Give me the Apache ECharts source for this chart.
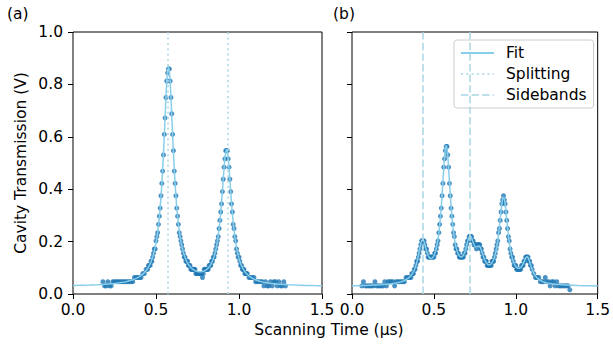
<!DOCTYPE html>
<html>
<head>
<meta charset="utf-8">
<script src="https://cdn.jsdelivr.net/npm/echarts@6/dist/echarts.min.js"></script>
<style>
  html, body { margin: 0; padding: 0; background: #fff; }
  #chart { width: 613px; height: 348px; }
</style>
</head>
<body>
<div id="chart"></div>
<script>
// (a) scan: sample times (μs), fitted curve and measured transmission (V)
const timeA = [
  0, 0.05, 0.10, 0.15, 0.18, 0.19, 0.20, 0.21, 0.22, 0.23,
  0.24, 0.25, 0.26, 0.27, 0.28, 0.29, 0.30, 0.31, 0.32, 0.33,
  0.34, 0.35, 0.36, 0.37, 0.38, 0.39, 0.40, 0.41, 0.42, 0.43,
  0.44, 0.45, 0.455, 0.46, 0.465, 0.47, 0.475, 0.48, 0.485, 0.49,
  0.495, 0.50, 0.505, 0.51, 0.515, 0.52, 0.525, 0.53, 0.535, 0.54,
  0.545, 0.55, 0.555, 0.56, 0.565, 0.57, 0.575, 0.58, 0.585, 0.59,
  0.595, 0.60, 0.605, 0.61, 0.615, 0.62, 0.625, 0.63, 0.635, 0.64,
  0.645, 0.65, 0.655, 0.66, 0.665, 0.67, 0.675, 0.68, 0.685, 0.69,
  0.695, 0.70, 0.705, 0.71, 0.715, 0.72, 0.725, 0.73, 0.735, 0.74,
  0.745, 0.75, 0.755, 0.76, 0.765, 0.77, 0.775, 0.78, 0.785, 0.79,
  0.795, 0.80, 0.805, 0.81, 0.815, 0.82, 0.825, 0.83, 0.835, 0.84,
  0.845, 0.85, 0.855, 0.86, 0.865, 0.87, 0.875, 0.88, 0.885, 0.89,
  0.895, 0.90, 0.905, 0.91, 0.915, 0.92, 0.925, 0.93, 0.935, 0.94,
  0.945, 0.95, 0.955, 0.96, 0.965, 0.97, 0.975, 0.98, 0.985, 0.99,
  0.995, 1.00, 1.005, 1.01, 1.015, 1.02, 1.025, 1.03, 1.035, 1.04,
  1.045, 1.05, 1.06, 1.07, 1.08, 1.09, 1.10, 1.11, 1.12, 1.13,
  1.14, 1.15, 1.16, 1.17, 1.18, 1.19, 1.20, 1.21, 1.22, 1.23,
  1.24, 1.25, 1.26, 1.27, 1.28, 1.30, 1.35, 1.40, 1.45, 1.50
];
const fitA = [
  0.032, 0.033, 0.034, 0.0355, 0.0366, 0.0369, 0.0374, 0.0378, 0.0384, 0.0389,
  0.0396, 0.0402, 0.041, 0.0417, 0.0426, 0.0436, 0.0446, 0.0458, 0.0471, 0.0485,
  0.0503, 0.0521, 0.0542, 0.0565, 0.0595, 0.0625, 0.0662, 0.0705, 0.0757, 0.0817,
  0.0893, 0.0982, 0.1035, 0.1093, 0.116, 0.1236, 0.1318, 0.1414, 0.1521, 0.1646,
  0.1787, 0.1952, 0.2142, 0.2363, 0.262, 0.2924, 0.3276, 0.3692, 0.4175, 0.4734,
  0.5365, 0.6063, 0.6792, 0.7503, 0.8114, 0.8536, 0.8687, 0.854, 0.8121, 0.7513,
  0.6806, 0.6079, 0.5386, 0.4757, 0.4202, 0.3723, 0.3311, 0.2962, 0.2663, 0.2408,
  0.2192, 0.2006, 0.1846, 0.1708, 0.1589, 0.1486, 0.1395, 0.1318, 0.1247, 0.1188,
  0.1135, 0.1088, 0.1047, 0.1012, 0.098, 0.0952, 0.0929, 0.0909, 0.0892, 0.0878,
  0.0866, 0.0857, 0.0851, 0.0848, 0.0847, 0.0849, 0.0852, 0.0858, 0.0867, 0.088,
  0.0896, 0.0915, 0.0937, 0.0965, 0.0997, 0.1035, 0.1079, 0.113, 0.119, 0.126,
  0.1341, 0.1436, 0.1549, 0.1679, 0.1833, 0.2014, 0.2227, 0.2479, 0.2772, 0.3112,
  0.3498, 0.3923, 0.437, 0.4804, 0.5177, 0.5433, 0.5523, 0.5428, 0.5167, 0.4788,
  0.4349, 0.3897, 0.3466, 0.3074, 0.2729, 0.2431, 0.2173, 0.1954, 0.1767, 0.1606,
  0.1469, 0.1351, 0.1248, 0.116, 0.1083, 0.1015, 0.0956, 0.0904, 0.0857, 0.0815,
  0.0778, 0.0745, 0.0688, 0.0642, 0.0603, 0.057, 0.0541, 0.0518, 0.0497, 0.0479,
  0.0463, 0.0449, 0.0438, 0.0427, 0.0417, 0.0408, 0.0401, 0.0393, 0.0387, 0.0381,
  0.0376, 0.0371, 0.0366, 0.0363, 0.0358, 0.0352, 0.0339, 0.0329, 0.0322, 0.0316
];
const measuredA = [
  null, null, null, null, 0.047, 0.031, 0.031, 0.047, 0.031, 0.031,
  0.047, 0.047, 0.047, 0.047, 0.047, 0.047, 0.047, 0.047, 0.047, 0.047,
  0.047, 0.047, 0.047, 0.063, 0.063, 0.063, 0.063, 0.063, 0.078, 0.078,
  0.094, 0.094, 0.109, 0.109, 0.109, 0.125, 0.125, 0.141, 0.156, 0.172,
  0.172, 0.203, 0.219, 0.234, 0.266, 0.297, 0.328, 0.375, 0.422, 0.469,
  0.531, 0.609, 0.672, 0.75, 0.813, 0.844, 0.859, 0.859, 0.813, 0.75,
  0.688, 0.609, 0.547, 0.469, 0.422, 0.375, 0.328, 0.297, 0.266, 0.234,
  0.219, 0.203, 0.188, 0.172, 0.156, 0.141, 0.141, 0.125, 0.125, 0.125,
  0.109, 0.109, 0.109, 0.094, 0.094, 0.094, 0.094, 0.094, 0.094, 0.078,
  0.078, 0.078, 0.078, 0.078, 0.078, 0.078, 0.078, 0.063, 0.078, 0.094,
  0.094, 0.094, 0.094, 0.094, 0.094, 0.109, 0.109, 0.109, 0.125, 0.125,
  0.141, 0.141, 0.156, 0.172, 0.188, 0.203, 0.219, 0.25, 0.281, 0.313,
  0.344, 0.391, 0.438, 0.484, 0.516, 0.547, 0.547, 0.547, 0.516, 0.484,
  0.438, 0.391, 0.344, 0.313, 0.266, 0.25, 0.219, 0.203, 0.172, 0.156,
  0.141, 0.141, 0.125, 0.109, 0.109, 0.094, 0.094, 0.094, 0.078, 0.078,
  0.078, 0.078, 0.063, 0.063, 0.063, 0.063, 0.047, 0.047, 0.047, 0.047,
  0.047, 0.031, 0.047, 0.031, 0.031, 0.047, 0.031, 0.047, 0.047, 0.031,
  0.047, 0.031, 0.031, 0.047, 0.031, null, null, null, null, null
];
// normal-mode splitting positions (μs)
const splittingA = [0.575, 0.925];

// (b) scan with modulation sidebands
const timeB = [
  0, 0.03, 0.06, 0.07, 0.08, 0.09, 0.10, 0.11, 0.12, 0.13,
  0.14, 0.15, 0.16, 0.17, 0.18, 0.19, 0.20, 0.21, 0.22, 0.23,
  0.24, 0.25, 0.26, 0.27, 0.28, 0.29, 0.30, 0.31, 0.32, 0.33,
  0.34, 0.35, 0.36, 0.365, 0.37, 0.375, 0.38, 0.385, 0.39, 0.395,
  0.40, 0.405, 0.41, 0.415, 0.42, 0.425, 0.43, 0.435, 0.44, 0.445,
  0.45, 0.455, 0.46, 0.465, 0.47, 0.475, 0.48, 0.485, 0.49, 0.495,
  0.50, 0.505, 0.51, 0.515, 0.52, 0.525, 0.53, 0.535, 0.54, 0.545,
  0.55, 0.555, 0.56, 0.565, 0.57, 0.575, 0.58, 0.585, 0.59, 0.595,
  0.60, 0.605, 0.61, 0.615, 0.62, 0.625, 0.63, 0.635, 0.64, 0.645,
  0.65, 0.655, 0.66, 0.665, 0.67, 0.675, 0.68, 0.685, 0.69, 0.695,
  0.70, 0.705, 0.71, 0.715, 0.72, 0.725, 0.73, 0.735, 0.74, 0.745,
  0.75, 0.755, 0.76, 0.765, 0.77, 0.775, 0.78, 0.785, 0.79, 0.795,
  0.80, 0.805, 0.81, 0.815, 0.82, 0.825, 0.83, 0.835, 0.84, 0.845,
  0.85, 0.855, 0.86, 0.865, 0.87, 0.875, 0.88, 0.885, 0.89, 0.895,
  0.90, 0.905, 0.91, 0.915, 0.92, 0.925, 0.93, 0.935, 0.94, 0.945,
  0.95, 0.955, 0.96, 0.965, 0.97, 0.975, 0.98, 0.985, 0.99, 0.995,
  1.00, 1.005, 1.01, 1.015, 1.02, 1.025, 1.03, 1.035, 1.04, 1.045,
  1.05, 1.055, 1.06, 1.065, 1.07, 1.075, 1.08, 1.085, 1.09, 1.095,
  1.10, 1.11, 1.12, 1.13, 1.14, 1.15, 1.16, 1.17, 1.18, 1.19,
  1.20, 1.21, 1.22, 1.23, 1.24, 1.25, 1.26, 1.27, 1.28, 1.29,
  1.30, 1.31, 1.32, 1.33, 1.34, 1.38, 1.42, 1.46, 1.50
];
const fitB = [
  0.0315, 0.0319, 0.0324, 0.0325, 0.0327, 0.0329, 0.0332, 0.0334, 0.0336, 0.0339,
  0.0342, 0.0345, 0.0348, 0.0351, 0.0356, 0.036, 0.0367, 0.0373, 0.0378, 0.0386,
  0.0394, 0.0403, 0.0411, 0.0423, 0.0436, 0.0451, 0.0468, 0.0489, 0.0516, 0.0547,
  0.0588, 0.0638, 0.0705, 0.0745, 0.0793, 0.085, 0.0913, 0.099, 0.1082, 0.1189,
  0.1315, 0.1458, 0.1613, 0.1772, 0.1917, 0.2024, 0.2078, 0.2064, 0.1992, 0.1885,
  0.1765, 0.1649, 0.1549, 0.1469, 0.1411, 0.1374, 0.1355, 0.1354, 0.1371, 0.1406,
  0.1461, 0.1535, 0.1633, 0.1757, 0.1909, 0.2098, 0.2326, 0.2605, 0.2938, 0.3331,
  0.3785, 0.428, 0.4784, 0.5235, 0.5554, 0.5677, 0.5562, 0.5244, 0.4794, 0.4293,
  0.38, 0.3351, 0.2961, 0.263, 0.2356, 0.2129, 0.1944, 0.1795, 0.1675, 0.1582,
  0.1509, 0.1459, 0.1426, 0.1411, 0.1416, 0.1437, 0.1477, 0.1539, 0.1623, 0.1724,
  0.1843, 0.1969, 0.2086, 0.2174, 0.2214, 0.2201, 0.2141, 0.2055, 0.1966, 0.1889,
  0.1832, 0.1805, 0.1799, 0.1812, 0.1828, 0.1833, 0.1813, 0.176, 0.1679, 0.1584,
  0.1483, 0.1388, 0.1308, 0.124, 0.119, 0.1151, 0.1128, 0.1114, 0.1119, 0.113,
  0.1156, 0.1195, 0.1248, 0.1318, 0.1407, 0.1518, 0.1655, 0.1823, 0.2025, 0.2268,
  0.2546, 0.2852, 0.3163, 0.344, 0.3636, 0.3705, 0.3631, 0.3428, 0.3145, 0.2829,
  0.2517, 0.2232, 0.1984, 0.1775, 0.1599, 0.1454, 0.1335, 0.1239, 0.1162, 0.1099,
  0.1051, 0.1017, 0.0993, 0.098, 0.0979, 0.0989, 0.1012, 0.1047, 0.1095, 0.1156,
  0.1227, 0.1302, 0.1368, 0.1412, 0.142, 0.1388, 0.1321, 0.1231, 0.1131, 0.1034,
  0.0943, 0.0798, 0.0691, 0.0615, 0.056, 0.0518, 0.0486, 0.0461, 0.0442, 0.0425,
  0.0411, 0.04, 0.039, 0.0382, 0.0374, 0.0367, 0.0362, 0.0358, 0.0352, 0.035,
  0.0345, 0.0341, 0.0339, 0.0336, 0.0334, 0.0324, 0.0317, 0.0313, 0.0308
];
const measuredB = [
  null, null, 0.031, 0.047, 0.031, 0.031, 0.031, 0.031, 0.031, 0.031,
  0.047, 0.031, 0.031, 0.031, 0.031, 0.031, 0.047, 0.031, 0.047, 0.047,
  0.047, 0.047, 0.031, 0.047, 0.047, 0.047, 0.047, 0.047, 0.047, 0.063,
  0.063, 0.063, 0.063, 0.078, 0.078, 0.078, 0.094, 0.094, 0.109, 0.125,
  0.125, 0.141, 0.156, 0.172, 0.188, 0.203, 0.203, 0.203, 0.203, 0.188,
  0.172, 0.172, 0.156, 0.141, 0.141, 0.141, 0.141, 0.141, 0.141, 0.141,
  0.141, 0.156, 0.156, 0.172, 0.188, 0.203, 0.234, 0.266, 0.297, 0.328,
  0.375, 0.422, 0.484, 0.516, 0.547, 0.563, 0.563, 0.531, 0.484, 0.422,
  0.375, 0.328, 0.297, 0.266, 0.234, 0.219, 0.188, 0.172, 0.172, 0.156,
  0.156, 0.141, 0.141, 0.141, 0.141, 0.141, 0.141, 0.156, 0.156, 0.172,
  0.188, 0.203, 0.203, 0.219, 0.219, 0.219, 0.219, 0.203, 0.203, 0.188,
  0.188, 0.188, 0.172, 0.188, 0.188, 0.188, 0.188, 0.172, 0.172, 0.156,
  0.141, 0.141, 0.125, 0.125, 0.125, 0.109, 0.109, 0.109, 0.109, 0.109,
  0.109, 0.125, 0.125, 0.125, 0.141, 0.156, 0.172, 0.188, 0.203, 0.234,
  0.25, 0.281, 0.313, 0.344, 0.359, 0.375, 0.359, 0.344, 0.313, 0.281,
  0.25, 0.219, 0.203, 0.172, 0.156, 0.141, 0.141, 0.125, 0.109, 0.109,
  0.109, 0.094, 0.094, 0.094, 0.094, 0.094, 0.094, 0.109, 0.109, 0.109,
  0.125, 0.125, 0.141, 0.141, 0.141, 0.141, 0.125, 0.125, 0.109, 0.109,
  0.094, 0.078, 0.063, 0.063, 0.063, 0.047, 0.047, 0.047, 0.063, 0.047,
  0.047, 0.031, 0.047, 0.047, 0.031, 0.047, 0.031, 0.031, 0.031, 0.031,
  0.031, 0.031, 0.031, 0.016, null, null, null, null, null
];
// sideband positions (μs)
const sidebandsB = [0.43, 0.72];

const xTicks = [0, 0.5, 1.0, 1.5];
const yTicks = [0, 0.2, 0.4, 0.6, 0.8, 1.0];

const FONT = 'DejaVu Sans';
const FS = 15.5;
const DOT = '#1f77b4';
const FIT = '#87ceeb';
const GUIDE = 'rgba(173,216,230,0.8)';

function pairs(t, v) {
  const out = [];
  for (let i = 0; i < t.length; i++) {
    if (v[i] !== null) out.push([t[i], v[i]]);
  }
  return out;
}

function xAxisFor(idx) {
  return {
    gridIndex: idx, type: 'value',
    min: xTicks[0], max: xTicks[xTicks.length - 1], interval: xTicks[1] - xTicks[0],
    axisLine: { show: false },
    axisTick: { show: true, length: 5, lineStyle: { color: '#000', width: 1 } },
    splitLine: { show: false },
    axisLabel: { color: '#000', fontFamily: FONT, fontSize: FS, margin: 8,
      formatter: v => v.toFixed(1) }
  };
}
function yAxisFor(idx, labelled) {
  const ax = {
    gridIndex: idx, type: 'value',
    min: yTicks[0], max: yTicks[yTicks.length - 1], interval: yTicks[1] - yTicks[0],
    axisLine: { show: false },
    axisTick: { show: true, length: 5, lineStyle: { color: '#000', width: 1 } },
    splitLine: { show: false },
    axisLabel: { show: labelled, color: '#000', fontFamily: FONT, fontSize: FS, margin: 10,
      formatter: v => v.toFixed(1) }
  };
  if (labelled) {
    ax.name = 'Cavity Transmission (V)';
    ax.nameLocation = 'middle';
    ax.nameGap = 44;
    ax.nameTextStyle = { color: '#000', fontFamily: FONT, fontSize: FS };
  }
  return ax;
}

function guideSeries(name, idx, positions, dash) {
  return {
    name: name, type: 'line', xAxisIndex: idx, yAxisIndex: idx,
    data: [], symbol: 'none', silent: true,
    itemStyle: { color: GUIDE },
    lineStyle: { color: GUIDE, width: 2, type: dash },
    markLine: {
      symbol: 'none', silent: true, animation: false,
      label: { show: false },
      lineStyle: { color: GUIDE, width: 2, type: dash },
      data: positions.map(v => ({ xAxis: v }))
    },
    z: 1
  };
}

const chart = echarts.init(document.getElementById('chart'), null, { renderer: 'svg' });
chart.setOption({
  animation: false,
  backgroundColor: '#fff',
  textStyle: { fontFamily: FONT },
  title: [
    { text: '(a)', left: 7, top: 6, padding: 0,
      textStyle: { fontFamily: FONT, fontSize: FS, fontWeight: 'normal', color: '#000' } },
    { text: '(b)', left: 333, top: 6, padding: 0,
      textStyle: { fontFamily: FONT, fontSize: FS, fontWeight: 'normal', color: '#000' } }
  ],
  grid: [
    { left: 73, top: 32, width: 249, height: 262, show: true, borderColor: '#000', borderWidth: 1, backgroundColor: 'transparent' },
    { left: 352, top: 32, width: 249, height: 262, show: true, borderColor: '#000', borderWidth: 1, backgroundColor: 'transparent' }
  ],
  xAxis: [xAxisFor(0), xAxisFor(1)],
  yAxis: [yAxisFor(0, true), yAxisFor(1, false)],
  legend: {
    data: ['Fit', 'Splitting', 'Sidebands'],
    orient: 'vertical', left: 454, top: 40,
    itemWidth: 33, itemHeight: 10, itemGap: 5,
    padding: [5, 7, 5, 6],
    backgroundColor: 'rgba(255,255,255,0.8)',
    borderColor: '#cccccc', borderWidth: 1, borderRadius: 3,
    selectedMode: false,
    itemStyle: { opacity: 0 },
    textStyle: { color: '#000', fontFamily: FONT, fontSize: FS, padding: [0, 0, 0, 7] }
  },
  graphic: [
    { type: 'text', x: 329, y: 330,
      style: { text: 'Scanning Time (μs)', fill: '#000', font: FS + 'px "' + FONT + '"',
        textAlign: 'center', textVerticalAlign: 'middle' } }
  ],
  series: [
    guideSeries('Splitting', 0, splittingA, [2, 3.3]),
    { name: 'Measured', type: 'scatter', xAxisIndex: 0, yAxisIndex: 0,
      data: pairs(timeA, measuredA), symbolSize: 5,
      itemStyle: { color: DOT }, z: 2 },
    { name: 'Fit', type: 'line', xAxisIndex: 0, yAxisIndex: 0,
      data: pairs(timeA, fitA), symbol: 'none', showSymbol: false,
      lineStyle: { color: FIT, width: 1.5 }, itemStyle: { color: FIT }, z: 3 },

    guideSeries('Sidebands', 1, sidebandsB, [7.4, 3.2]),
    { name: 'Measured', type: 'scatter', xAxisIndex: 1, yAxisIndex: 1,
      data: pairs(timeB, measuredB), symbolSize: 5,
      itemStyle: { color: DOT }, z: 2 },
    { name: 'Fit', type: 'line', xAxisIndex: 1, yAxisIndex: 1,
      data: pairs(timeB, fitB), symbol: 'none', showSymbol: false,
      lineStyle: { color: FIT, width: 1.5 }, itemStyle: { color: FIT }, z: 3 }
  ]
});
</script>
</body>
</html>
